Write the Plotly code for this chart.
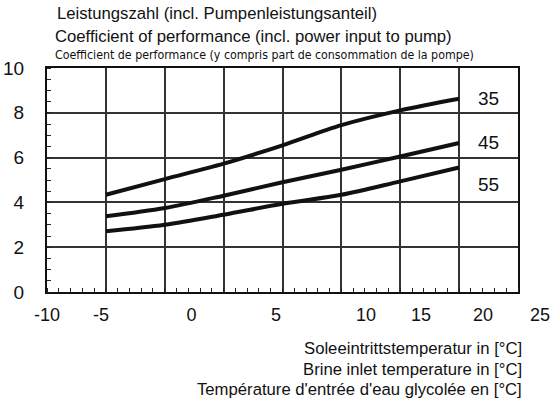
import plotly.graph_objects as go

# ---- data ----
brine_temp = [-5, -0.83, 3.33, 7.5, 11.67, 15.83, 20]
cop_35 = [4.34, 5.04, 5.73, 6.55, 7.45, 8.11, 8.63]
cop_45 = [3.38, 3.75, 4.30, 4.90, 5.46, 6.05, 6.65]
cop_55 = [2.71, 3.00, 3.45, 3.94, 4.34, 4.94, 5.56]
series_names = ["35", "45", "55"]
label_y = [8.63, 6.68, 4.79]
x_tick_text = ["-10", "-5", "0", "5", "10", "15", "20", "25"]
x_tick_pos = [-9.17, -5.35, 1.06, 7.04, 13.41, 17.30, 21.69, 25.72]
y_ticks = [0, 2, 4, 6, 8, 10]

# ---- geometry ----
W, H = 556, 398
L, R, T, B = 47, 8, 68, 106
plot_w = W - L - R
plot_h = H - T - B
step = (brine_temp[-1] - brine_temp[0]) / 6.0
x0 = brine_temp[0] - step
x8 = x0 + 8 * step
grid_px = 471.0
dom_end = grid_px / plot_w
x2_end = x0 + (x8 - x0) / dom_end
grid_vals = [x0 + k * step for k in range(9)]

FONT = "Liberation Sans, Arial, sans-serif"
NARROW = "Liberation Sans Narrow, DejaVu Sans Condensed, Arial Narrow, sans-serif"

fig = go.Figure()
for name, vals in zip(series_names, [cop_35, cop_45, cop_55]):
    fig.add_trace(go.Scatter(x=brine_temp, y=vals, mode="lines", name=name,
                             line=dict(color="#111111", width=4, shape="spline", smoothing=0.9),
                             showlegend=False, hoverinfo="skip"))
# invisible trace that carries the tick-label axis
fig.add_trace(go.Scatter(x=[x0], y=[0], xaxis="x2", yaxis="y2", mode="markers",
                         marker=dict(opacity=0), showlegend=False, hoverinfo="skip"))

for name, ly in zip(series_names, label_y):
    fig.add_annotation(x=brine_temp[-1] + 0.5 * step, y=ly, text=name, showarrow=False,
                       xref="x", yref="y", font=dict(size=19, color="#111", family=FONT))

titles_top = [
    ("Leistungszahl (incl. Pumpenleistungsanteil)", 55, 14, 16.7, FONT),
    ("Coefficient of performance (incl. power input to pump)", 53, 36, 16.7, FONT),
    ("Coefficient de performance (y compris part de consommation de la pompe)", 53, 55, 12.3, NARROW),
]
for txt, px, py, sz, fam in titles_top:
    fig.add_annotation(x=(px - L) / plot_w, y=1 - (py - T) / plot_h, xref="paper", yref="paper",
                       text=txt, showarrow=False, xanchor="left", yanchor="middle",
                       font=dict(size=sz, color="#111", family=fam))

titles_bottom = [
    ("Soleeintrittstemperatur in [°C]", 348),
    ("Brine inlet temperature in [°C]", 369),
    ("Température d'entrée d'eau glycolée en [°C]", 389),
]
for txt, py in titles_bottom:
    fig.add_annotation(x=(524 - L) / plot_w, y=1 - (py - T) / plot_h, xref="paper", yref="paper",
                       text=txt, showarrow=False, xanchor="right", yanchor="middle",
                       font=dict(size=16.7, color="#111", family=FONT))

fig.update_layout(
    width=W, height=H,
    margin=dict(l=L, r=R, t=T, b=B, autoexpand=False),
    paper_bgcolor="white", plot_bgcolor="rgba(0,0,0,0)",
    xaxis=dict(domain=[0, dom_end], range=[x0, x8], tickvals=grid_vals, showticklabels=False,
               showgrid=True, gridcolor="#333", gridwidth=1.5, zeroline=False, automargin=False,
               showline=True, mirror=True, linecolor="#111", linewidth=2, ticks="",
               minor=dict(tick0=x0, dtick=step / 5, ticks="inside", ticklen=4,
                          tickcolor="#222", tickwidth=1, showgrid=False)),
    xaxis2=dict(domain=[0, 1], range=[x0, x2_end], anchor="y2", automargin=False,
                tickvals=x_tick_pos, ticktext=x_tick_text, showgrid=False, zeroline=False,
                showline=False, ticks="", ticklabelstandoff=10,
                tickfont=dict(size=18, color="#111", family=FONT)),
    yaxis2=dict(domain=[0, 1], range=[0, 10], anchor="x2", visible=False, automargin=False),
    yaxis=dict(range=[0, 10], tickvals=y_ticks, showgrid=True, gridcolor="#333", gridwidth=1.5,
               zeroline=False, showline=True, mirror=True, linecolor="#111", linewidth=2,
               ticks="", ticklabelstandoff=17, automargin=False,
               tickfont=dict(size=19, color="#111", family=FONT),
               minor=dict(dtick=0.5, ticks="inside", ticklen=4, tickcolor="#222",
                          tickwidth=1, showgrid=False)),
)

fig.write_html("out.html")
